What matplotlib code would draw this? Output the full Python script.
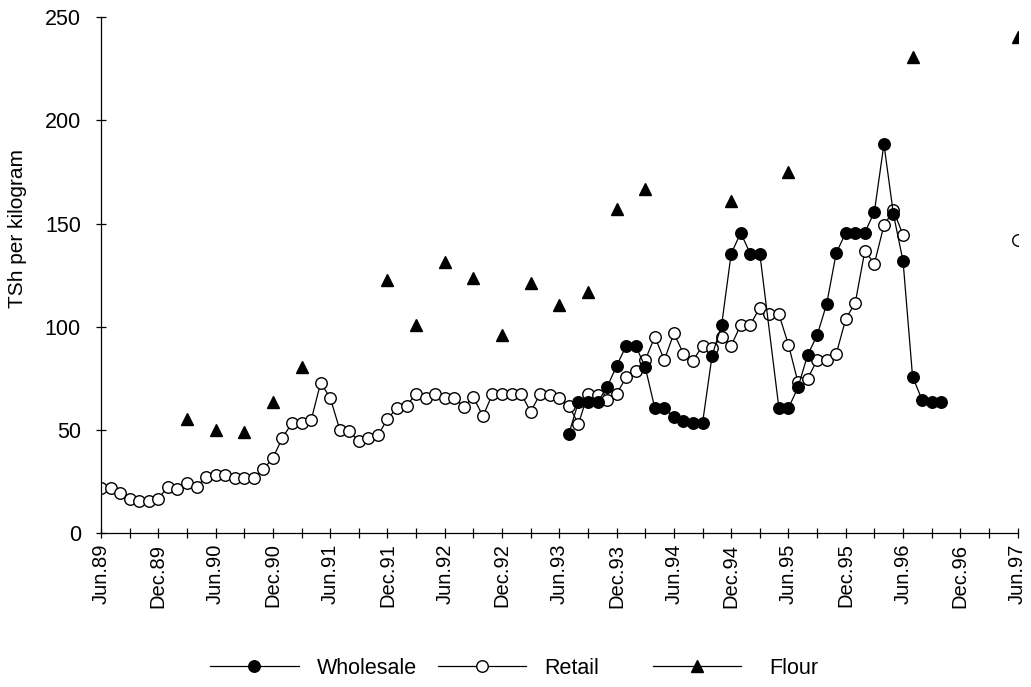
import numpy as np
import matplotlib
matplotlib.use("Agg")
import matplotlib.pyplot as plt
from matplotlib.lines import Line2D
from matplotlib.ticker import MultipleLocator, FixedLocator, FixedFormatter

plt.rcParams["font.family"] = ["Liberation Sans", "DejaVu Sans"]

# Months counted from June 1989 (0 = Jun.89, 96 = Jun.97)
tick_labels = ["Jun.89", "Dec.89", "Jun.90", "Dec.90", "Jun.91", "Dec.91",
               "Jun.92", "Dec.92", "Jun.93", "Dec.93", "Jun.94", "Dec.94",
               "Jun.95", "Dec.95", "Jun.96", "Dec.96", "Jun.97"]

# Retail maize price, monthly from Jun.89 to Jun.96, plus Jun.97
retail_months = list(range(0, 85)) + [96]
retail_prices = [
    22, 22, 19.5, 16.7, 15.6, 15.6, 16.7, 22.4, 21.6, 24.3,
    22.4, 27.2, 28, 28, 26.6, 26.6, 26.6, 30.9, 36.4, 46.2,
    53.3, 53.3, 54.6, 72.8, 65.6, 50.2, 49.3, 44.6, 46.2, 47.3,
    55.4, 60.6, 61.8, 67.4, 65.4, 67.4, 65.4, 65.4, 61.3, 65.9,
    56.6, 67.4, 67.4, 67.4, 67.4, 58.9, 67.4, 67, 65.5, 61.8,
    52.9, 67.4, 67, 64.6, 67.4, 75.5, 78.4, 83.9, 95.1, 83.9,
    96.8, 87, 83.6, 90.8, 89.5, 95.1, 90.8, 100.9, 100.9, 109.3,
    106.2, 106, 91.3, 73, 74.7, 83.9, 83.9, 86.8, 103.7, 111.7,
    136.7, 130.6, 149.1, 156.4, 144.4, 141.9]

# Wholesale maize price (no observation for Apr.95)
wholesale_months = list(range(49, 70)) + list(range(71, 89))
wholesale_prices = [
    48.2, 63.4, 63.4, 63.4, 70.7, 81, 90.8, 90.8, 80.4, 60.6,
    60.6, 56.2, 54.3, 53.3, 53.3, 86, 100.8, 135.4, 145.5, 135.4,
    135.4,
    60.6, 60.6, 70.6, 86.2, 95.8, 111, 135.6, 145.6, 145.6, 145.6,
    155.7, 188.5, 154.4, 131.9, 75.8, 64.5, 63.5, 63.5]

# Maize flour price, occasional observations
flour_months = [9, 12, 15, 18, 21, 30, 33, 36, 39, 42, 45, 48, 51, 54, 57,
                66, 72, 85, 96]
flour_prices = [55.5, 50.2, 49, 63.6, 80.5, 122.5, 100.7, 131.3, 123.8, 95.8,
                121.2, 110.4, 116.8, 157.2, 166.8, 160.8, 174.9, 230.5, 240.2]

fig = plt.figure(figsize=(10.31, 6.87), dpi=100)
ax = fig.add_axes([0.098, 0.224, 0.889, 0.751])

# Retail series with a break between Jun.96 and Jun.97
retail_x = np.array(retail_months, dtype=float)
retail_y = np.array(retail_prices, dtype=float)
gap = np.where(np.diff(retail_x) > 1)[0]
retail_x = np.insert(retail_x, gap + 1, np.nan)
retail_y = np.insert(retail_y, gap + 1, np.nan)

lw = 0.9
ms = 8.3
ax.plot(retail_x, retail_y, color="black", linewidth=lw, marker="o",
        markersize=ms, markerfacecolor="white", markeredgecolor="black",
        markeredgewidth=1.0, zorder=2)
ax.plot(wholesale_months, wholesale_prices, color="black", linewidth=lw,
        marker="o", markersize=ms, markerfacecolor="black",
        markeredgecolor="black", zorder=3)
ax.plot(flour_months, flour_prices, linestyle="none", marker="^",
        markersize=8, color="black", zorder=4)

ax.set_xlim(0, 96)
ax.set_ylim(0, 250)
ax.yaxis.set_major_locator(MultipleLocator(50))
ax.xaxis.set_major_locator(FixedLocator(list(range(0, 97, 6))))
ax.xaxis.set_major_formatter(FixedFormatter(tick_labels))
ax.xaxis.set_minor_locator(MultipleLocator(3))

for side in ("top", "right"):
    ax.spines[side].set_visible(False)
for side in ("left", "bottom"):
    ax.spines[side].set_linewidth(lw)
    ax.spines[side].set_clip_on(False)

ax.tick_params(axis="both", which="both", direction="inout", length=7,
               width=lw, color="black")
ax.tick_params(axis="x", which="major", labelsize=14.5, pad=4, rotation=90)
ax.tick_params(axis="y", which="major", labelsize=15.5, pad=11)
ax.set_ylabel("TSh per kilogram", fontsize=15)
ax.yaxis.set_label_coords(-0.081, 0.59)

# Legend entries placed one by one along the bottom
entries = [
    ("Wholesale", dict(marker="o", markerfacecolor="black"), 0.204),
    ("Retail", dict(marker="o", markerfacecolor="white"), 0.425),
    ("Flour", dict(marker="^", markerfacecolor="black"), 0.633),
]
for label, style, left in entries:
    handle = Line2D([], [], color="black", linewidth=lw, markersize=ms,
                    markeredgecolor="black", **style)
    pad = 1.3 if label == "Flour" else 0.85
    fig.legend([handle], [label], loc="center left",
               bbox_to_anchor=(left, 0.027), frameon=False, fontsize=15.5,
               handlelength=4.1, handletextpad=pad, borderpad=0,
               borderaxespad=0)

fig.savefig("out.png", dpi=100)
